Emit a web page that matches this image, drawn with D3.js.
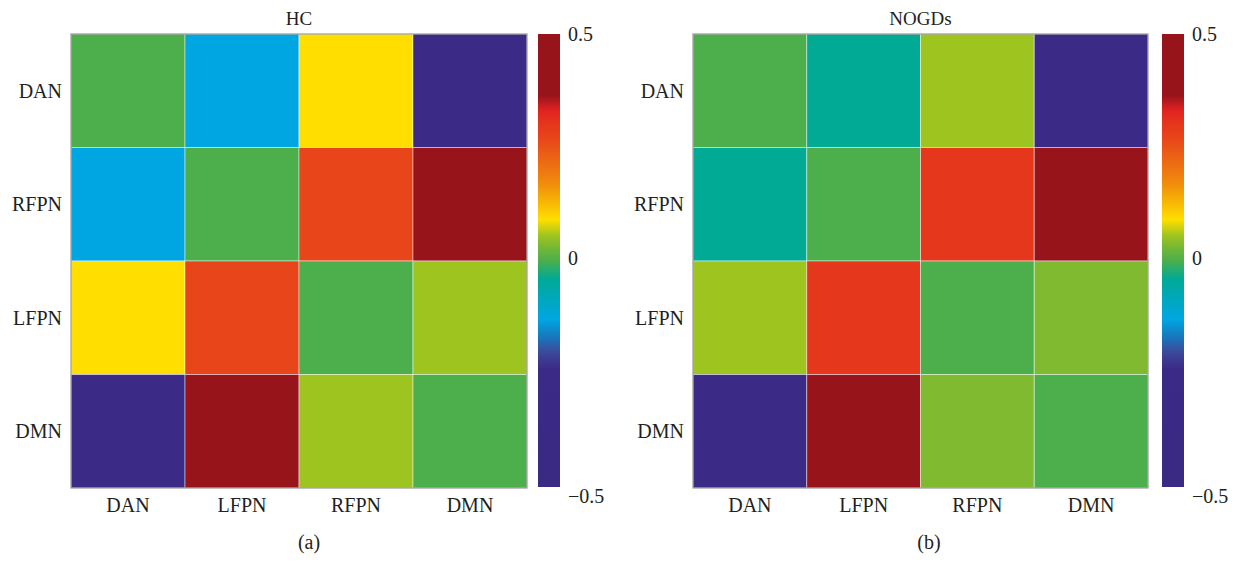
<!DOCTYPE html>
<html><head><meta charset="utf-8">
<script src="https://cdn.jsdelivr.net/npm/d3@7"></script>
<style>body{margin:0;background:#fff}svg{display:block}text{font-family:"Liberation Serif","DejaVu Serif",serif;fill:#231f20}</style>
</head><body>
<svg id="c" width="1239" height="563"></svg>
<script>
const rowLabels = ["DAN","RFPN","LFPN","DMN"];
const colLabels = ["DAN","LFPN","RFPN","DMN"];
const hcValues = [
  [0.00, -0.13, 0.09, -0.30],
  [-0.13, 0.00, 0.27, 0.40],
  [0.09, 0.27, 0.00, 0.055],
  [-0.30, 0.40, 0.055, 0.00]
];
const nogdsValues = [
  [0.00, -0.04, 0.055, -0.30],
  [-0.04, 0.00, 0.30, 0.40],
  [0.055, 0.30, 0.00, 0.035],
  [-0.30, 0.40, 0.035, 0.00]
];
const colorbarTicks = [0.5, 0, -0.5];
const tickText = ["0.5","0","\u22120.5"];
const stopValues = [-0.5,-0.24,-0.20,-0.175,-0.13,-0.04,0.0,0.035,0.055,0.09,0.17,0.27,0.30,0.33,0.365,0.5];
const stopColors = ["#3a2a84","#3b2a86","#3b4c9b","#1c70b6","#00a6e2","#00aa95","#4caf4b","#7fba31","#9ec51f","#ffde00","#f08c0c","#e8451b","#e5371b","#e22320","#96141a","#96141a"];

const svg = d3.select("#c");
const color = d3.scaleLinear().domain(stopValues).range(stopColors).interpolate(d3.interpolateRgb).clamp(true);

function panel(opts){
  const {x0, y0, w, h, title, sub, subx, data, cbx, id} = opts;
  const g = svg.append("g");
  const x = d3.scaleBand().domain(colLabels).range([x0, x0+w]);
  const y = d3.scaleBand().domain(rowLabels).range([y0, y0+h]);
  const cells = [];
  data.forEach((row,i)=>row.forEach((v,j)=>cells.push({r:rowLabels[i], c:colLabels[j], v})));
  g.selectAll("rect.cell").data(cells).join("rect").attr("class","cell")
    .attr("x", d=>x(d.c)).attr("y", d=>y(d.r))
    .attr("width", x.bandwidth()).attr("height", y.bandwidth())
    .attr("fill", d=>color(d.v))
    .attr("stroke","rgba(255,255,255,0.45)").attr("stroke-width",1);
  g.append("rect").attr("x",x0).attr("y",y0).attr("width",w).attr("height",h)
    .attr("fill","none").attr("stroke","#9a9a9a").attr("stroke-width",1.2);
  g.selectAll("text.yl").data(rowLabels).join("text").attr("class","yl")
    .attr("x", x0-9).attr("y", d=>y(d)+y.bandwidth()/2).attr("dy","0.35em")
    .attr("text-anchor","end").attr("font-size",20).text(d=>d);
  g.selectAll("text.xl").data(colLabels).join("text").attr("class","xl")
    .attr("x", d=>x(d)+x.bandwidth()/2).attr("y", y0+h+24)
    .attr("text-anchor","middle").attr("font-size",20).text(d=>d);
  g.append("text").attr("x", x0+w/2).attr("y", 25).attr("text-anchor","middle").attr("font-size",19).text(title);
  g.append("text").attr("x", subx).attr("y", 549).attr("text-anchor","middle").attr("font-size",20).text(sub);
  const cy = d3.scaleLinear().domain([0.5,-0.5]).range([y0, y0+h-1]);
  const defs = svg.append("defs");
  const grad = defs.append("linearGradient").attr("id",id).attr("x1",0).attr("y1",1).attr("x2",0).attr("y2",0);
  grad.selectAll("stop").data(stopValues).join("stop")
    .attr("offset",(d)=> (d+0.5))
    .attr("stop-color",(d,i)=>stopColors[i]);
  g.append("rect").attr("x",cbx).attr("y",cy(0.5)).attr("width",22).attr("height",cy(-0.5)-cy(0.5)).attr("fill",`url(#${id})`);
  g.selectAll("text.ct").data(colorbarTicks).join("text").attr("class","ct")
    .attr("x", cbx+30).attr("y", d=> d===0 ? cy(d)-3 : (d>0 ? cy(d) : cy(d)+9)).attr("dy","0.35em")
    .attr("font-size",20).text((d,i)=>tickText[i]);
}
panel({x0:71, y0:34, w:456, h:454, title:"HC", sub:"(a)", subx:309, data:hcValues, cbx:538, id:"ga"});
panel({x0:693, y0:34, w:455, h:454, title:"NOGDs", sub:"(b)", subx:929, data:nogdsValues, cbx:1162, id:"gb"});
</script>
</body></html>
